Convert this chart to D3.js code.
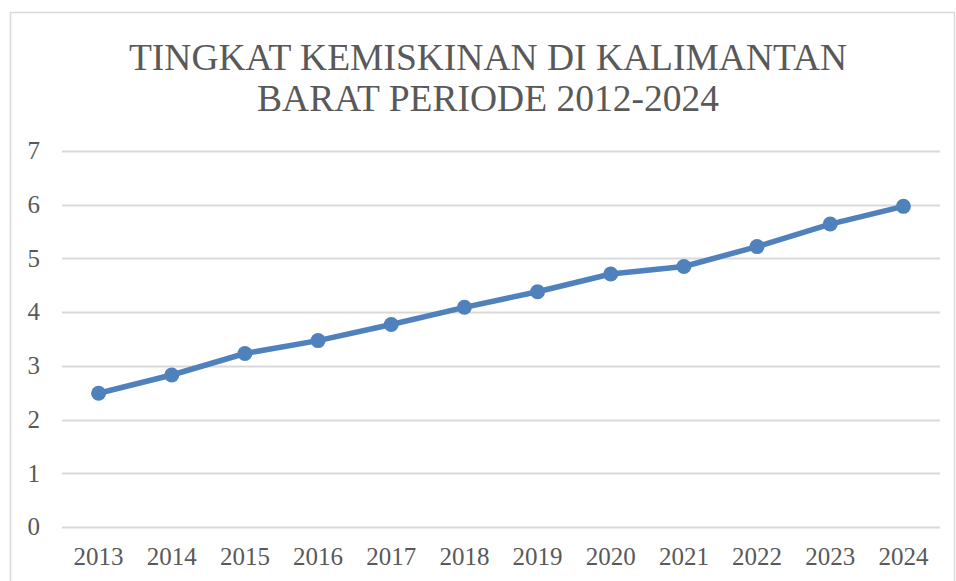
<!DOCTYPE html>
<html>
<head>
<meta charset="utf-8">
<script src="https://cdn.jsdelivr.net/npm/d3@7"></script>
<style>
  body { margin: 0; background: #fff; }
  svg { display: block; }
</style>
</head>
<body>
<svg id="chart"></svg>
<script>
let years = ['2013', '2014', '2015', '2016', '2017', '2018', '2019', '2020', '2021', '2022', '2023', '2024'];
let values = [2.49, 2.83, 3.23, 3.47, 3.77, 4.09, 4.38, 4.71, 4.85, 5.22, 5.64, 5.97];
let yTicks = [0, 1, 2, 3, 4, 5, 6, 7];
let titleLines = ['TINGKAT KEMISKINAN DI KALIMANTAN', 'BARAT PERIODE 2012-2024'];

let width = 956;
let height = 581;
let margin = {top: 151, right: 16, bottom: 54, left: 62};
let innerW = width - margin.left - margin.right;
let innerH = height - margin.top - margin.bottom;

let svg = d3.select('#chart')
    .attr('width', width)
    .attr('height', height);

// chart frame
svg.append('rect')
    .attr('x', 10.5)
    .attr('y', 12.5)
    .attr('width', 944)
    .attr('height', 600)
    .attr('fill', 'none')
    .attr('stroke', '#d9d9d9')
    .attr('stroke-width', 1.5);

// title
svg.append('g')
    .selectAll('text')
    .data(titleLines)
    .enter().append('text')
    .attr('x', 488)
    .attr('y', (d, i) => 70 + i * 41)
    .attr('text-anchor', 'middle')
    .style('font-family', '"Liberation Serif", "Times New Roman", serif')
    .style('font-size', '37.5px')
    .style('fill', '#595959')
    .text(d => d);

let g = svg.append('g')
    .attr('transform', 'translate(' + margin.left + ',' + margin.top + ')');

let x = d3.scaleBand()
    .domain(years)
    .range([0, innerW]);

let y = d3.scaleLinear()
    .domain([0, 7])
    .range([innerH, 0]);

// gridlines
g.append('g')
    .selectAll('line')
    .data(yTicks)
    .enter().append('line')
    .attr('x1', 0)
    .attr('x2', innerW)
    .attr('y1', d => Math.round(y(d)) + 0.5)
    .attr('y2', d => Math.round(y(d)) + 0.5)
    .attr('stroke', '#d9d9d9')
    .attr('stroke-width', 2);

let labelFont = '"Liberation Serif", "Times New Roman", serif';

// y labels
g.append('g')
    .selectAll('text')
    .data(yTicks)
    .enter().append('text')
    .attr('x', -22)
    .attr('y', d => y(d))
    .attr('dy', '0.33em')
    .attr('text-anchor', 'end')
    .style('font-family', labelFont)
    .style('font-size', '25px')
    .style('fill', '#595959')
    .text(d => d);

// x labels
g.append('g')
    .selectAll('text')
    .data(years)
    .enter().append('text')
    .attr('x', d => x(d) + x.bandwidth() / 2)
    .attr('y', innerH + 38)
    .attr('text-anchor', 'middle')
    .style('font-family', labelFont)
    .style('font-size', '25px')
    .style('fill', '#595959')
    .text(d => d);

let line = d3.line()
    .x((d, i) => x(years[i]) + x.bandwidth() / 2)
    .y(d => y(d));

g.append('path')
    .datum(values)
    .attr('fill', 'none')
    .attr('stroke', '#4f81bd')
    .attr('stroke-width', 5.5)
    .attr('stroke-linejoin', 'round')
    .attr('d', line);

g.append('g')
    .selectAll('circle')
    .data(values)
    .enter().append('circle')
    .attr('cx', (d, i) => x(years[i]) + x.bandwidth() / 2)
    .attr('cy', d => y(d))
    .attr('r', 7.5)
    .attr('fill', '#4f81bd');
</script>
</body>
</html>
